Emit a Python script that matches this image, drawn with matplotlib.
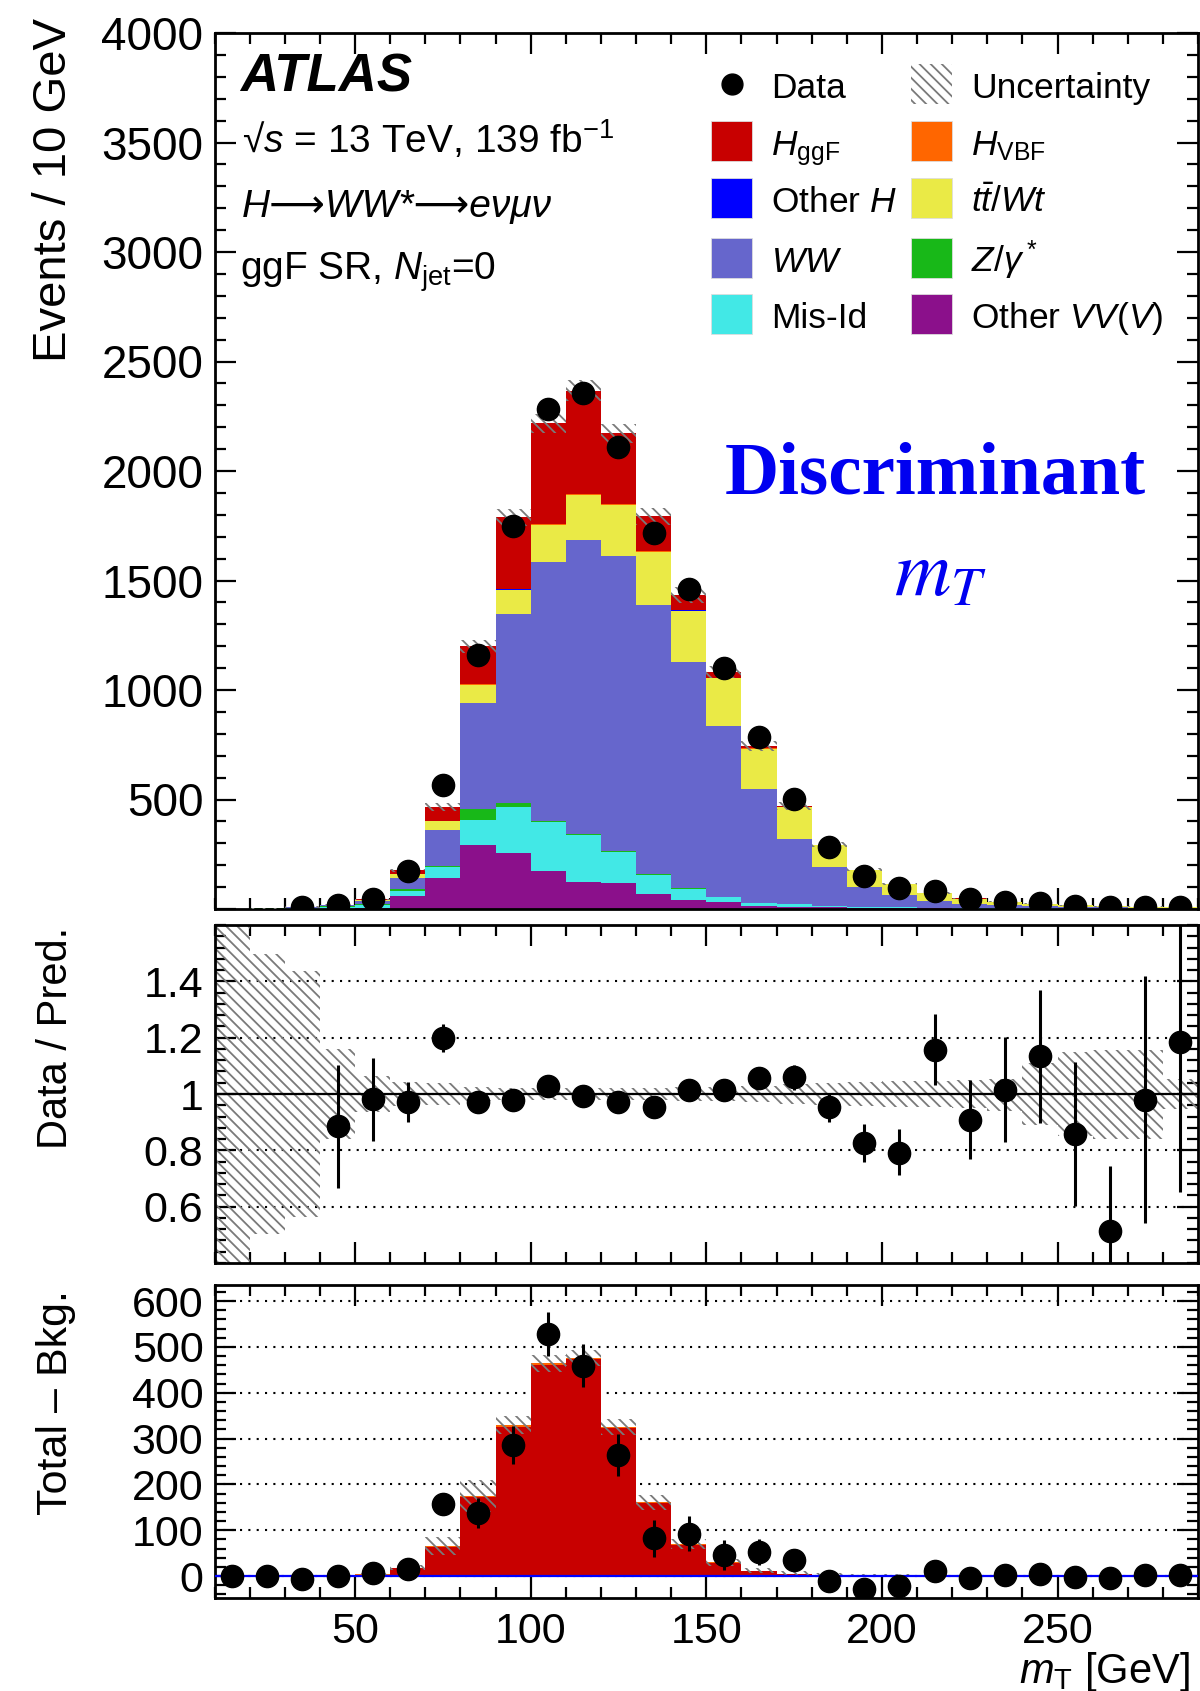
import numpy as np
import matplotlib
matplotlib.use('Agg')
import matplotlib.pyplot as plt
from matplotlib.patches import Rectangle
from matplotlib.lines import Line2D
from matplotlib.ticker import MultipleLocator

plt.rcParams['font.family'] = ['Liberation Sans', 'DejaVu Sans']
plt.rcParams['mathtext.fontset'] = 'custom'
plt.rcParams['mathtext.rm'] = 'Liberation Sans'
plt.rcParams['mathtext.it'] = 'Liberation Sans:italic'
plt.rcParams['mathtext.bf'] = 'Liberation Sans:bold'
plt.rcParams['hatch.linewidth'] = 1.3

# ---------------- data ----------------
bin_edges = list(range(10, 300, 10))          # 10 ... 290 GeV
bin_centers = [e + 5 for e in bin_edges[:-1]]

other_vv = [0.1, 0.2, 0.3, 1, 5, 59, 143, 290, 255, 175, 125, 117, 69, 39, 30, 14, 11, 8, 6, 4, 3, 2, 1.5, 1, 0.8, 0.6, 0.5, 0.4]
mis_id   = [0.4, 1.2, 3.5, 8, 15, 25, 50, 115, 212, 224, 212, 143, 87, 54, 25, 12, 10, 7, 5, 4, 3, 2.5, 2, 1.5, 1.2, 1, 0.8, 0.6]
z_gamma  = [0.4, 1, 2.5, 4, 5, 7, 3, 50, 18, 4, 5, 5, 2, 1, 0.5, 0.5, 0.5, 0.3, 0.3, 0.2, 0.2, 0.2, 0.1, 0.1, 0.1, 0.1, 0.1, 0.1]
ww       = [0.1, 0.4, 1, 4, 10, 49, 167, 487, 863, 1181, 1345, 1349, 1231, 1036, 778, 520, 300, 175, 91, 56, 32, 20, 14, 10, 7, 5.5, 4.2, 3.4]
ttbar_wt = [0.1, 0.2, 0.5, 1.5, 5, 18, 37, 81, 109, 168, 202, 231, 241, 233, 220, 185, 143, 101, 76, 50, 34, 23, 15, 11, 7.5, 5.5, 4.3, 3.4]
other_h  = [0, 0, 0, 0.1, 0.5, 1, 1.5, 2, 2, 2, 2, 1.5, 1.5, 1, 1, 0.5, 0.5, 0.3, 0.2, 0.2, 0.1, 0.1, 0.1, 0.1, 0.1, 0, 0, 0]
h_vbf    = [0, 0, 0, 0.1, 0.5, 1, 1.5, 2, 3, 3, 3, 3, 2, 2, 1.5, 1, 1, 0.5, 0.3, 0.2, 0.2, 0.1, 0.1, 0.1, 0.1, 0.1, 0, 0]
h_ggf    = [0, 0, 0.3, 1, 3, 17, 64, 172, 326, 461, 473, 322, 159, 68, 28, 11, 4, 1.5, 1, 0.5, 0.3, 0.2, 0.2, 0.1, 0.1, 0.1, 0.1, 0.1]

data = [np.nan, np.nan, 10, 18, 44, 175, 565, 1161, 1747, 2284, 2354, 2110, 1718, 1459, 1099, 787,
        502, 282, 151, 94, 84, 44, 34, 27, 15, 7, 10, 9.5]

# relative uncertainty band (ratio panel)
unc_up = [1.70, 1.497, 1.438, 1.160, 1.065, 1.041, 1.040, 1.025, 1.022, 1.020, 1.020, 1.020, 1.022, 1.025,
          1.025, 1.030, 1.035, 1.040, 1.042, 1.045, 1.045, 1.048, 1.053, 1.110, 1.150, 1.155, 1.155, 1.053]
unc_dn = [0.30, 0.503, 0.562, 0.840, 0.935, 0.959, 0.960, 0.975, 0.978, 0.980, 0.980, 0.980, 0.978, 0.975,
          0.975, 0.970, 0.965, 0.960, 0.958, 0.955, 0.955, 0.952, 0.940, 0.890, 0.850, 0.840, 0.840, 0.947]

ratio = [np.nan, np.nan, np.nan, 0.885, 0.981, 0.970, 1.200, 0.973, 0.979, 1.030, 0.992, 0.970, 0.955, 1.015,
         1.014, 1.056, 1.059, 0.953, 0.826, 0.789, 1.156, 0.909, 1.015, 1.134, 0.858, 0.515, 0.979, 1.183]
ratio_err_up = [np.nan, np.nan, np.nan, 0.219, 0.146, 0.071, 0.049, 0.030, 0.025, 0.022, 0.021, 0.022, 0.025, 0.028,
                0.032, 0.038, 0.045, 0.051, 0.067, 0.088, 0.128, 0.141, 0.189, 0.235, 0.257, 0.231, 0.439, 0.600]
ratio_err_dn = [np.nan, np.nan, np.nan, 0.220, 0.147, 0.071, 0.052, 0.030, 0.025, 0.022, 0.021, 0.022, 0.025, 0.028,
                0.032, 0.038, 0.044, 0.053, 0.069, 0.078, 0.124, 0.140, 0.187, 0.237, 0.257, 0.200, 0.437, 0.530]

data_minus_bkg = [0, 0, -7, 0, 6, 15, 157, 138, 286, 528, 459, 264, 82, 92, 46, 53, 35, -11, -29, -22, 12, -4,
                  2, 3.5, -1.5, -5, 1.5, 1.5]
data_minus_bkg_err = [5, 5, 6, 7, 10, 14, 24, 33, 41, 47, 47, 46, 41, 38, 33, 28, 22, 17, 12, 10, 9, 7, 6, 5, 4, 3, 3, 3]
sig_unc = [0, 0, 0.5, 1, 2, 5, 20, 35, 20, 18, 17, 18, 16, 11, 8, 6, 5, 4, 4, 3, 2, 1, 1, 1, 1, 1, 1, 1]

main_yticks = [0, 500, 1000, 1500, 2000, 2500, 3000, 3500, 4000]
ratio_yticks = [0.6, 0.8, 1.0, 1.2, 1.4]
ratio_yticklabels = ['0.6', '0.8', '1', '1.2', '1.4']
sub_yticks = [0, 100, 200, 300, 400, 500, 600]
xticks = [50, 100, 150, 200, 250]

# ---------------- style ----------------
colors = {
    'OtherVV': '#8b108b', 'MisId': '#42e8e6', 'Z': '#18b818', 'WW': '#6666cc',
    'tt': '#eaea46', 'OtherH': '#0000ff', 'VBF': '#ff6600', 'ggF': '#c80000',
}
HATCH = '\\\\\\'
HCOL = '#7a7a7a'
W, H = 1200, 1691
TICK_FS = 31
LAB_FS = 30

fig = plt.figure(figsize=(W / 100, H / 100), dpi=100)


def frac(x0, ytop, x1, ybot):
    return [x0 / W, 1 - ybot / H, (x1 - x0) / W, (ybot - ytop) / H]


ax1 = fig.add_axes(frac(214.6, 33, 1198, 909))
ax2 = fig.add_axes(frac(214.6, 925, 1198, 1263))
ax3 = fig.add_axes(frac(214.6, 1285, 1198, 1598))

edges = np.array(bin_edges, dtype=float)
lefts = edges[:-1]
widths = np.diff(edges)
centers = np.array(bin_centers, dtype=float)

# ---------------- main panel ----------------
stack = [(other_vv, 'OtherVV'), (mis_id, 'MisId'), (z_gamma, 'Z'), (ww, 'WW'),
         (ttbar_wt, 'tt'), (other_h, 'OtherH'), (h_vbf, 'VBF'), (h_ggf, 'ggF')]
bottom = np.zeros(len(lefts))
for vals, key in stack:
    v = np.array(vals, dtype=float)
    ax1.bar(lefts, v, width=widths, bottom=bottom, align='edge', color=colors[key], linewidth=0, zorder=2)
    bottom = bottom + v
total = bottom
up = np.array(unc_up)
dn = np.array(unc_dn)
ax1.bar(lefts, total * (up - dn), width=widths, bottom=total * dn, align='edge', fill=False,
        hatch=HATCH, edgecolor=HCOL, linewidth=0, zorder=3)
ax1.plot(centers, data, 'o', color='k', ms=16, zorder=5)
ax1.set_ylim(0, 4000)
ax1.set_yticks(main_yticks)
ax1.set_yticklabels(['' if t == 0 else str(t) for t in main_yticks])
ax1.yaxis.set_minor_locator(MultipleLocator(100))

# ---------------- ratio panel ----------------
ax2.bar(lefts, up - dn, width=widths, bottom=dn, align='edge', fill=False,
        hatch=HATCH, edgecolor=HCOL, linewidth=0, zorder=2)
ax2.axhline(1.0, color='k', lw=1.6, zorder=3)
ax2.errorbar(centers, ratio, yerr=[ratio_err_dn, ratio_err_up], fmt='o', color='k', ms=16,
             elinewidth=2.2, capsize=0, zorder=5)
ax2.set_ylim(0.4, 1.6)
ax2.set_yticks(ratio_yticks)
ax2.set_yticklabels(ratio_yticklabels)
ax2.yaxis.set_minor_locator(MultipleLocator(0.04))

# ---------------- signal panel ----------------
ax3.bar(lefts, h_ggf, width=widths, align='edge', color=colors['ggF'], linewidth=0, zorder=2)
ax3.bar(lefts, h_vbf, width=widths, bottom=h_ggf, align='edge', color=colors['VBF'], linewidth=0, zorder=2)
sig = np.array(h_ggf) + np.array(h_vbf)
su = np.array(sig_unc)
ax3.bar(lefts, 2 * su, width=widths, bottom=sig - su, align='edge', fill=False,
        hatch=HATCH, edgecolor=HCOL, linewidth=0, zorder=3)
ax3.axhline(0, color='#0000ff', lw=1.6, zorder=3)
ax3.errorbar(centers, data_minus_bkg, yerr=data_minus_bkg_err, fmt='o', color='k', ms=16,
             elinewidth=2.2, capsize=0, zorder=5)
ax3.set_ylim(-48, 635)
ax3.set_yticks(sub_yticks)
ax3.yaxis.set_minor_locator(MultipleLocator(20))

for ax in (ax2, ax3):
    ax.set_axisbelow(True)
    ax.yaxis.grid(True, which='major', linestyle=(0, (1, 3)), color='k', lw=1.5, zorder=0)

for ax in (ax1, ax2, ax3):
    ax.set_xlim(10, 290)
    ax.set_xticks(xticks)
    ax.xaxis.set_minor_locator(MultipleLocator(10))
    ax.tick_params(which='both', direction='in', top=True, right=True, labelsize=TICK_FS, width=1.6)
    ax.tick_params(which='major', length=15, pad=8)
    ax.tick_params(which='minor', length=8)
    for s in ax.spines.values():
        s.set_linewidth(2.0)
    if ax is not ax3:
        ax.tick_params(labelbottom=False)
ax1.tick_params(axis='y', labelsize=33)
ax3.tick_params(axis='x', pad=10)

# axis titles
fig.text(54 / W, 1 - 18 / H, 'Events / 10 GeV', rotation=90, ha='center', va='top', fontsize=34)
fig.text(56 / W, 1 - 927 / H, 'Data / Pred.', rotation=90, ha='center', va='top', fontsize=LAB_FS)
fig.text(56 / W, 1 - 1290 / H, 'Total \u2013 Bkg.', rotation=90, ha='center', va='top', fontsize=31)
fig.text(1190 / W, 1 - 1672 / H, r'$m_{\mathrm{T}}$ [GeV]', ha='right', va='center', fontsize=LAB_FS)

# header texts
fig.text(240 / W, 1 - 92 / H, 'ATLAS', fontsize=38, fontweight='bold', fontstyle='italic', va='baseline')
fig.text(242 / W, 1 - 153 / H, '\u221a$s$ = 13 TeV, 139 fb$^{\\mathregular{-1}}$', fontsize=28, va='baseline')
fig.text(242 / W, 1 - 217 / H, 'H\u27f6WW*\u27f6e\u03bd\u03bc\u03bd', fontsize=28, fontstyle='italic',
         family=['Liberation Sans', 'DejaVu Sans'], va='baseline')
fig.text(240 / W, 1 - 280 / H, 'ggF SR, $N_{\\mathrm{jet}}$=0', fontsize=28, va='baseline')

# legend
LEG_FS = 25.5
rows = [98, 155, 212, 272, 328]
col_box = [711, 911]
col_txt = [771, 971]
entries = [
    (0, 0, 'data', 'Data'), (1, 0, 'unc', 'Uncertainty'),
    (0, 1, 'ggF', '$H_{\\mathrm{ggF}}$'), (1, 1, 'VBF', '$H_{\\mathrm{VBF}}$'),
    (0, 2, 'OtherH', 'Other $H$'), (1, 2, 'tt', '$t\\bar{t}/Wt$'),
    (0, 3, 'WW', '$WW$'), (1, 3, 'Z', '$Z/\\gamma^*$'),
    (0, 4, 'MisId', 'Mis-Id'), (1, 4, 'OtherVV', 'Other $VV(V)$'),
]
for col, row, key, label in entries:
    yb = rows[row]
    yc = yb - 14
    x0 = col_box[col]
    if key == 'data':
        fig.add_artist(Line2D([(x0 + 20.5) / W], [1 - yc / H], marker='o', color='k', ms=15,
                              transform=fig.transFigure))
    elif key == 'unc':
        fig.add_artist(Rectangle((x0 / W, 1 - (yc + 20) / H), 41 / W, 40 / H, transform=fig.transFigure,
                                 fill=False, hatch=HATCH, edgecolor=HCOL, linewidth=0))
    else:
        fig.add_artist(Rectangle((x0 / W, 1 - (yc + 20) / H), 41 / W, 40 / H, transform=fig.transFigure,
                                 facecolor=colors[key], edgecolor='#dddddd', linewidth=0.6))
    fig.text(col_txt[col] / W, 1 - yb / H, label, fontsize=LEG_FS, va='baseline')

# annotations
fig.text(935 / W, 1 - 494 / H, 'Discriminant', family='Liberation Serif', fontweight='bold',
         color='#0000f0', fontsize=54, ha='center', va='baseline')
fig.text(940 / W, 1 - 596 / H, '$m_T$', math_fontfamily='stix', color='#0000f0', fontsize=56,
         ha='center', va='baseline')

fig.savefig('out.png', dpi=100)
